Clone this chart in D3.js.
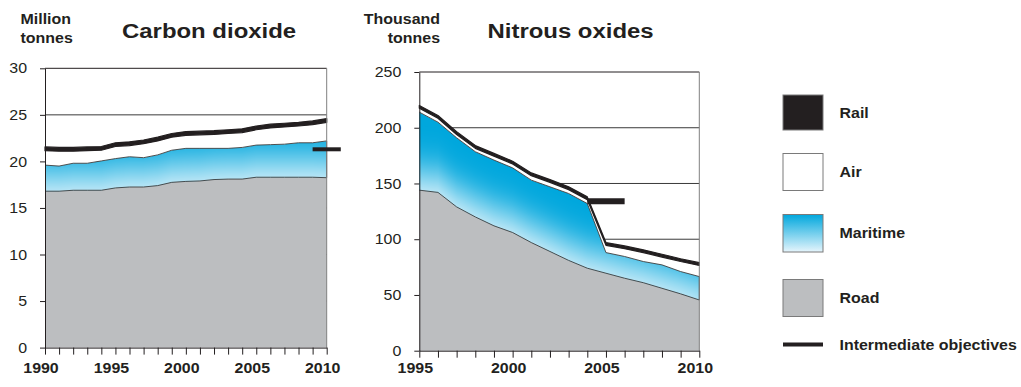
<!DOCTYPE html>
<html>
<head>
<meta charset="utf-8">
<script src="https://cdn.jsdelivr.net/npm/d3@7"></script>
<style>
  body { margin: 0; background: #fff; }
  text { font-family: "Liberation Sans", Arial, Helvetica, sans-serif; fill: #231f20; }
</style>
</head>
<body>
<svg id="chart" width="1021" height="387"></svg>
<script>
// ---- Carbon dioxide (million tonnes), 1990-2010 ----
const co2Years = [1990,1991,1992,1993,1994,1995,1996,1997,1998,1999,2000,2001,2002,2003,2004,2005,2006,2007,2008,2009,2010];
const co2Road     = [16.8,16.8,16.9,16.9,16.9,17.15,17.25,17.25,17.4,17.75,17.85,17.9,18.05,18.1,18.1,18.3,18.3,18.3,18.3,18.3,18.25];
const co2Maritime = [2.8,2.7,2.9,2.9,3.15,3.15,3.25,3.15,3.3,3.45,3.55,3.5,3.35,3.3,3.4,3.45,3.5,3.55,3.7,3.7,3.95];
const co2Air      = [1.55,1.6,1.3,1.35,1.15,1.3,1.2,1.5,1.5,1.4,1.4,1.45,1.5,1.6,1.6,1.65,1.8,1.85,1.8,1.95,2.0];
const co2Rail     = [0.4,0.4,0.4,0.4,0.4,0.4,0.4,0.4,0.4,0.4,0.4,0.4,0.4,0.4,0.4,0.4,0.4,0.4,0.4,0.4,0.4];
const co2ObjectiveYears = [2009, 2011];
const co2ObjectiveValue = 21.3;
const co2YTicks = [0, 5, 10, 15, 20, 25, 30];
const co2XLabels = [1990, 1995, 2000, 2005, 2010];

// ---- Nitrous oxides (thousand tonnes), 1995-2010 ----
const noxYears = [1995,1996,1997,1998,1999,2000,2001,2002,2003,2004,2005,2006,2007,2008,2009,2010];
const noxRoad     = [144,142,129,120,112,106,97,89,81,74,69.5,65,61,56,51,45.5];
const noxMaritime = [70,63,62,58.5,59,58,56,58,60,58,18.5,19.5,19,21,20,21];
const noxAir      = [3.5,3.5,3,3,3.5,3.5,4,4,3.5,3.5,6.5,7,8,7,9,10];
const noxRail     = [2.5,2.5,2.5,2.5,2.5,2.5,2.5,2.5,2.5,2.5,2.5,2.5,2.5,2.5,2.5,2.5];
const noxObjectiveYears = [2004, 2006];
const noxObjectiveValue = 134;
const noxYTicks = [0, 50, 100, 150, 200, 250];
const noxXLabels = [1995, 2000, 2005, 2010];

// ---- Legend ----
const legendLabels = ["Rail", "Air", "Maritime", "Road", "Intermediate objectives"];

const INK = "#231f20";
const ROAD_GREY = "#bcbec0";
const SEA_BLUE = "#00a7dd";
const SEA_PALE = "#e6f5fc";
const SX = 1.14; // horizontal stretch of the lettering

const svg = d3.select("#chart");
const defs = svg.append("defs");

const swatch = defs.append("linearGradient")
  .attr("id", "maritimeSwatch").attr("x1", 0).attr("y1", 0).attr("x2", 0).attr("y2", 1);
swatch.append("stop").attr("offset", "0%").attr("stop-color", SEA_BLUE);
swatch.append("stop").attr("offset", "100%").attr("stop-color", SEA_PALE);

// vertical-only blur used to fade the maritime band towards the road band
defs.append("filter")
  .attr("id", "fadeBlur")
  .attr("filterUnits", "userSpaceOnUse")
  .attr("x", 0).attr("y", 0).attr("width", 1021).attr("height", 387)
  .append("feGaussianBlur").attr("stdDeviation", "0 20");

function label(parent, x, y, str, opts = {}) {
  return parent.append("text")
    .attr("transform", `translate(${x},${y}) scale(${SX},1)`)
    .attr("text-anchor", opts.anchor || "start")
    .attr("dominant-baseline", opts.baseline || "auto")
    .style("font-size", (opts.size || 14) + "px")
    .style("font-weight", opts.bold ? "bold" : "normal")
    .text(str);
}

function drawPanel(cfg) {
  const { id, years, road, maritime, air, rail, x, y, yTicks, xLabels,
          objYears, objValue, objWidth } = cfg;
  const g = svg.append("g").attr("class", id);
  const [xLeft, xRight] = x.range();

  const rows = years.map((yr, i) => ({ year: yr, road: road[i], maritime: maritime[i], air: air[i], rail: rail[i] }));
  const layers = d3.stack().keys(["road", "maritime", "air", "rail"])(rows);

  const area = d3.area().x(d => x(d.data.year)).y0(d => y(d[0])).y1(d => y(d[1]));
  const topLine = d3.line().x(d => x(d.data.year)).y(d => y(d[1]));

  // horizontal grid
  g.append("g").selectAll("line")
    .data(yTicks.filter(v => v > 0))
    .join("line")
    .attr("x1", xLeft).attr("x2", xRight)
    .attr("y1", d => y(d)).attr("y2", d => y(d))
    .attr("stroke", d => d === yTicks[yTicks.length - 1] ? INK : "#3a3a3a")
    .attr("stroke-width", 1);

  // road
  g.append("path").attr("d", area(layers[0])).attr("fill", ROAD_GREY);

  // maritime: saturated blue fading to pale near the road band
  defs.append("clipPath").attr("id", id + "-sea")
    .append("path").attr("d", area(layers[1]));
  g.append("path").attr("d", area(layers[1])).attr("fill", SEA_BLUE);
  g.append("g").attr("clip-path", `url(#${id}-sea)`)
    .append("path")
    .attr("d", area(layers[0]))
    .attr("transform", "translate(0,-16)")
    .attr("fill", SEA_PALE)
    .attr("filter", "url(#fadeBlur)");

  // air
  g.append("path").attr("d", area(layers[2])).attr("fill", "#fff");

  // rail
  g.append("path").attr("d", area(layers[3]))
    .attr("fill", INK).attr("stroke", INK).attr("stroke-width", 1.2)
    .attr("stroke-linejoin", "round");

  // outlines on top of road and maritime
  [layers[0], layers[1]].forEach(l => {
    g.append("path").attr("d", topLine(l))
      .attr("fill", "none").attr("stroke", "#3c3c3c").attr("stroke-width", 0.9);
  });
  // right edge of the stacked bands
  const last = layers[1][layers[1].length - 1];
  g.append("line")
    .attr("x1", x(last.data.year)).attr("x2", x(last.data.year))
    .attr("y1", y(layers[0][layers[0].length - 1][1])).attr("y2", y(last[1]))
    .attr("stroke", "#3c3c3c").attr("stroke-width", 0.9);

  // right frame
  g.append("line")
    .attr("x1", xRight).attr("x2", xRight)
    .attr("y1", y(0)).attr("y2", y(yTicks[yTicks.length - 1]))
    .attr("stroke", "#808080").attr("stroke-width", 1);

  // axes
  const yAxis = d3.axisLeft(y).tickValues(yTicks).tickSize(5).tickSizeOuter(0).tickFormat("");
  g.append("g").attr("transform", `translate(${xLeft},0)`).call(yAxis)
    .call(s => s.selectAll("path,line").attr("stroke", INK));
  const xAxis = d3.axisBottom(x).tickValues(years).tickSize(7).tickSizeOuter(0).tickFormat("");
  g.append("g").attr("transform", `translate(0,${y(0)})`).call(xAxis)
    .call(s => s.selectAll("path,line").attr("stroke", INK));

  yTicks.forEach(v => label(g, xLeft - 18, y(v), String(v), { anchor: "end", baseline: "central", size: 14 }));
  xLabels.forEach(v => label(g, x(v) - 4, 373, String(v), { anchor: "middle", size: 14, bold: true }));

  // intermediate objective
  g.append("line")
    .attr("x1", x(objYears[0])).attr("x2", x(objYears[1]))
    .attr("y1", y(objValue)).attr("y2", y(objValue))
    .attr("stroke", INK).attr("stroke-width", objWidth);
}

drawPanel({
  id: "co2", years: co2Years, road: co2Road, maritime: co2Maritime, air: co2Air, rail: co2Rail,
  x: d3.scaleLinear().domain([1990, 2010]).range([45, 326.7]),
  y: d3.scaleLinear().domain([0, 30]).range([347.6, 68.3]),
  yTicks: co2YTicks, xLabels: co2XLabels,
  objYears: co2ObjectiveYears, objValue: co2ObjectiveValue, objWidth: 4
});

drawPanel({
  id: "nox", years: noxYears, road: noxRoad, maritime: noxMaritime, air: noxAir, rail: noxRail,
  x: d3.scaleLinear().domain([1995, 2010]).range([419.3, 699.3]),
  y: d3.scaleLinear().domain([0, 250]).range([350.7, 72]),
  yTicks: noxYTicks, xLabels: noxXLabels,
  objYears: noxObjectiveYears, objValue: noxObjectiveValue, objWidth: 6
});

// titles and units
label(svg, 20.5, 24, "Million", { size: 14, bold: true });
label(svg, 20.5, 42.5, "tonnes", { size: 14, bold: true });
label(svg, 122, 38.3, "Carbon dioxide", { size: 21, bold: true });
label(svg, 440, 24, "Thousand", { size: 14, bold: true, anchor: "end" });
label(svg, 440, 42.5, "tonnes", { size: 14, bold: true, anchor: "end" });
label(svg, 487.5, 38.3, "Nitrous oxides", { size: 21, bold: true });

// legend
const legend = svg.append("g").attr("class", "legend");
const swatches = [
  { y: 95,    h: 35,   fill: INK },
  { y: 153.5, h: 37,   fill: "#fff" },
  { y: 214.5, h: 37.5, fill: "url(#maritimeSwatch)" },
  { y: 279.5, h: 37,   fill: ROAD_GREY }
];
swatches.forEach((s, i) => {
  legend.append("rect")
    .attr("x", 783).attr("y", s.y).attr("width", 40).attr("height", s.h)
    .attr("fill", s.fill).attr("stroke", "#7a7a7a").attr("stroke-width", 1);
  label(legend, 839.5, s.y + s.h / 2, legendLabels[i], { size: 14, bold: true, baseline: "central" });
});
legend.append("line")
  .attr("x1", 783).attr("x2", 823).attr("y1", 344.5).attr("y2", 344.5)
  .attr("stroke", INK).attr("stroke-width", 4);
label(legend, 839.5, 344.5, legendLabels[4], { size: 14, bold: true, baseline: "central" });
</script>
</body>
</html>
